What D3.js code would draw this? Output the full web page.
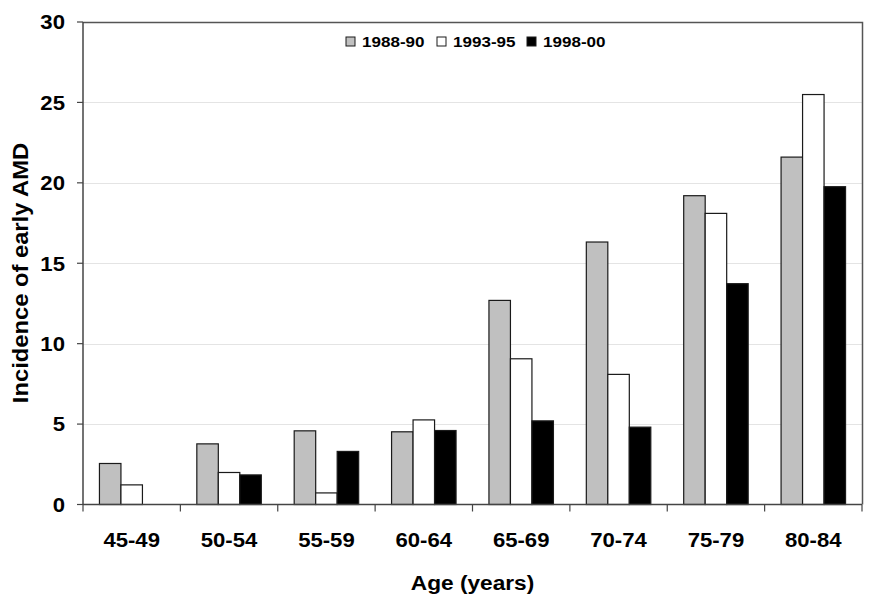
<!DOCTYPE html>
<html>
<head>
<meta charset="utf-8">
<script src="https://cdn.jsdelivr.net/npm/d3@7"></script>
<style>
    html, body { margin: 0; padding: 0; background: #ffffff; }
    svg { display: block; font-family: "Liberation Sans", Arial, sans-serif; font-weight: bold; }
</style>
</head>
<body>
<div id="chart"></div>
<script>
(function () {
    "use strict";

    const ageGroups = ["45-49", "50-54", "55-59", "60-64", "65-69", "70-74", "75-79", "80-84"];
    const seriesNames = ["1988-90", "1993-95", "1998-00"];
    const values1988 = [2.55, 3.77, 4.58, 4.52, 12.69, 16.32, 19.2, 21.6];
    const values1993 = [1.22, 1.99, 0.72, 5.26, 9.06, 8.09, 18.1, 25.49];
    const values1998 = [0, 1.84, 3.30, 4.60, 5.20, 4.81, 13.73, 19.76];
    const yTicks = [0, 5, 10, 15, 20, 25, 30];
    const seriesFill = ["#c0c0c0", "#ffffff", "#000000"];

    const seriesValues = [values1988, values1993, values1998];
    const width = 874;
    const height = 599;
    const margin = { top: 22, right: 12, bottom: 95, left: 83 };
    const stretch = 1.08;

    const svg = d3.select("#chart")
        .append("svg")
        .attr("width", width)
        .attr("height", height);

    const x = d3.scaleBand()
        .domain(ageGroups)
        .range([margin.left, width - margin.right])
        .paddingInner(0)
        .paddingOuter(0);

    const xInner = d3.scaleBand()
        .domain(seriesNames)
        .range([0, x.bandwidth()])
        .paddingInner(0)
        .paddingOuter(0.765);

    const y = d3.scaleLinear()
        .domain([0, 30])
        .range([height - margin.bottom + 0.5, margin.top]);

    const left = margin.left;
    const right = width - margin.right;

    // gridlines
    svg.append("g")
        .selectAll("line")
        .data(yTicks.filter((t) => t > 0 && t < 30))
        .join("line")
        .attr("x1", left)
        .attr("x2", right)
        .attr("y1", (d) => Math.round(y(d)) + 0.5)
        .attr("y2", (d) => Math.round(y(d)) + 0.5)
        .attr("stroke", "#e4e4e4")
        .attr("stroke-width", 1);

    // plot border top/right
    svg.append("path")
        .attr("d", `M${left},${Math.round(y(30)) + 0.5}H${right + 0.5}V${y(0)}`)
        .attr("fill", "none")
        .attr("stroke", "#555555")
        .attr("stroke-width", 1.5);

    // bars
    const rows = ageGroups.map((g, i) => seriesNames.map((s, j) => ({ group: g, series: s, idx: j, value: seriesValues[j][i] })));

    svg.append("g")
        .selectAll("g")
        .data(rows)
        .join("g")
        .attr("transform", (d) => `translate(${x(d[0].group)},0)`)
        .selectAll("rect")
        .data((d) => d.filter((b) => b.value > 0))
        .join("rect")
        .attr("x", (d) => xInner(d.series))
        .attr("width", xInner.bandwidth())
        .attr("y", (d) => y(d.value))
        .attr("height", (d) => y(0) - y(d.value))
        .attr("fill", (d) => seriesFill[d.idx])
        .attr("stroke", "#1a1a1a")
        .attr("stroke-width", 1.2);

    // y axis
    const yAxis = svg.append("g");
    yAxis.append("line")
        .attr("x1", left).attr("x2", left)
        .attr("y1", y(30)).attr("y2", y(0))
        .attr("stroke", "#444444")
        .attr("stroke-width", 1.5);
    yAxis.selectAll("line.tick")
        .data(yTicks)
        .join("line")
        .attr("class", "tick")
        .attr("x1", left - 6).attr("x2", left)
        .attr("y1", (d) => y(d)).attr("y2", (d) => y(d))
        .attr("stroke", "#444444")
        .attr("stroke-width", 1.2);
    yAxis.selectAll("text")
        .data(yTicks)
        .join("text")
        .attr("transform", (d) => `translate(${left - 18},${y(d)}) scale(${stretch},1)`)
        .attr("dy", "0.36em")
        .attr("text-anchor", "end")
        .style("font-size", "20.5px")
        .attr("fill", "#000000")
        .text((d) => d);

    // x axis
    const xAxis = svg.append("g");
    xAxis.append("line")
        .attr("x1", left).attr("x2", right)
        .attr("y1", y(0)).attr("y2", y(0))
        .attr("stroke", "#444444")
        .attr("stroke-width", 1.5);
    xAxis.selectAll("line.tick")
        .data(ageGroups.concat([null]))
        .join("line")
        .attr("class", "tick")
        .attr("x1", (d) => d ? x(d) : right)
        .attr("x2", (d) => d ? x(d) : right)
        .attr("y1", y(0)).attr("y2", y(0) + 7)
        .attr("stroke", "#444444")
        .attr("stroke-width", 1.2);
    xAxis.selectAll("text")
        .data(ageGroups)
        .join("text")
        .attr("transform", (d) => `translate(${x(d) + x.bandwidth() / 2},547) scale(${stretch},1)`)
        .attr("text-anchor", "middle")
        .style("font-size", "20.5px")
        .attr("fill", "#000000")
        .text((d) => d);

    // axis titles
    svg.append("text")
        .attr("transform", `translate(${(left + right) / 2},590) scale(${stretch},1)`)
        .attr("text-anchor", "middle")
        .style("font-size", "21px")
        .text("Age (years)");

    svg.append("text")
        .attr("transform", `translate(28,273) rotate(-90) scale(${stretch},1)`)
        .attr("text-anchor", "middle")
        .style("font-size", "22px")
        .text("Incidence of early AMD");

    // legend
    const legendX = [346, 437, 527];
    const legend = svg.append("g")
        .selectAll("g")
        .data(seriesNames)
        .join("g")
        .attr("transform", (d, i) => `translate(${legendX[i]},37)`);
    legend.append("rect")
        .attr("width", 9)
        .attr("height", 9)
        .attr("fill", (d, i) => seriesFill[i])
        .attr("stroke", "#1a1a1a")
        .attr("stroke-width", 1);
    legend.append("text")
        .attr("transform", `translate(16,10) scale(1.1,1)`)
        .style("font-size", "15.5px")
        .text((d) => d);
})();
</script>
</body>
</html>
